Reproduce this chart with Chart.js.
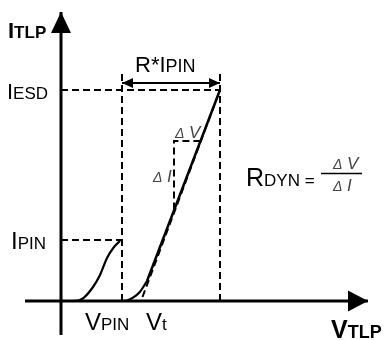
<!DOCTYPE html>
<html>
<head>
<meta charset="utf-8">
<script src="https://cdn.jsdelivr.net/npm/chart.js@4.4.0/dist/chart.umd.min.js"></script>
<style>
    html, body { margin: 0; padding: 0; background: #fff; }
    #wrap { width: 388px; height: 340px; position: relative; }
</style>
</head>
<body>
<div id="wrap"><canvas id="tlpChart"></canvas></div>
<script>
// 軸範圍（橫軸 V、縱軸 I，任意單位）
const vRange = [-6.1, 32.7];
const iRange = [-3.9, 30.1];

// 特徵點
const vPin = 6.1;
const vEsd = 15.9;
const iPin = 6.1;
const iEsd = 21.1;
const iGuideTop = 22.8;
const iArrow = 21.8;

// 座標軸
const axisV = [-3.6, 30.7];
const axisI = [-3.4, 28.9];

// pin 曲線
const pinV = [0.5, 1.2, 2.2, 3.2, 3.9, 4.6, 5.3, 5.9];
const pinI = [0, 0, 0.27, 1.4, 2.6, 4.3, 5.4, 6.0];

// 膝點曲線
const kneeV = [5.9, 6.1, 6.6, 7.2, 7.9, 8.6];
const kneeI = [0, 0, 0.05, 0.33, 0.93, 2.0];

// 線性區
const slopeV = [8.6, vEsd];
const slopeI = [2.0, iEsd];

// 外插虛線
const tanV = [8.15, vEsd];
const tanI = [0.4, iEsd];

// ΔV / ΔI 三角形
const triV = [13.94, 11.3, 11.3];
const triI = [16.0, 16.0, 9.1];

const zip = (xs, ys) => xs.map((x, k) => ({ x: x, y: ys[k] }));

const solid = (data, w) => ({
    data: data, borderColor: '#000', borderWidth: w, pointRadius: 0,
    fill: false, tension: 0
});
const dashed = (data) => ({
    data: data, borderColor: '#000', borderWidth: 2, borderDash: [7, 4],
    pointRadius: 0, fill: false, tension: 0
});

// 箭頭
const arrowPlugin = {
    id: 'arrowHeads',
    afterDatasetsDraw(chart) {
        const ctx = chart.ctx;
        chart.data.datasets.forEach((ds, i) => {
            if (!ds.arrows) return;
            const pts = chart.getDatasetMeta(i).data;
            ds.arrows.forEach(a => {
                const tip = a.end ? pts[pts.length - 1] : pts[0];
                const from = a.end ? pts[pts.length - 2] : pts[1];
                const ang = Math.atan2(tip.y - from.y, tip.x - from.x);
                ctx.save();
                ctx.translate(tip.x, tip.y);
                ctx.rotate(ang);
                ctx.beginPath();
                ctx.moveTo(0, 0);
                ctx.lineTo(-a.len, -a.half);
                ctx.lineTo(-a.len, a.half);
                ctx.closePath();
                ctx.fillStyle = '#000';
                ctx.fill();
                ctx.restore();
            });
        });
    }
};

// 文字標籤
const FONT = '"Liberation Sans", Arial, sans-serif';
const labelItems = [
    { x: 8, y: 38, parts: [['I', 'bold 22px'], ['TLP', 'bold 17px']] },
    { x: 7, y: 99, parts: [['I', '22px'], ['ESD', '17px']] },
    { x: 11, y: 249, parts: [['I', '24px'], ['PIN', '17px']] },
    { x: 135, y: 72, parts: [['R*I', '22px'], ['PIN', '18px']] },
    { x: 85, y: 330, parts: [['V', '24px'], ['PIN', '17px']] },
    { x: 146, y: 330, parts: [['V', '24px'], ['t', '17px']] },
    { x: 331, y: 338, parts: [['V', 'bold 25px'], ['TLP', 'bold 18px']] },
    { x: 246, y: 186, parts: [['R', '25px'], ['DYN', '17px'], [' =', '17px']] },
    { x: 175, y: 138, color: '#444', parts: [['Δ', 'italic 14px'], [' V', 'italic 17px']] },
    { x: 153, y: 182, color: '#444', parts: [['Δ', 'italic 14px'], [' I', 'italic 17px']] },
    { x: 333, y: 169, color: '#444', parts: [['Δ', 'italic 14px'], [' V', 'italic 17px']] },
    { x: 333, y: 191, color: '#444', parts: [['Δ', 'italic 14px'], [' I', 'italic 17px']] },
];

const textPlugin = {
    id: 'labels',
    afterDraw(chart) {
        const ctx = chart.ctx;
        ctx.save();
        ctx.textBaseline = 'alphabetic';
        labelItems.forEach(l => {
            let x = l.x;
            ctx.fillStyle = l.color || '#000';
            l.parts.forEach(p => {
                ctx.font = p[1] + ' ' + FONT;
                ctx.fillText(p[0], x, l.y);
                x += ctx.measureText(p[0]).width;
            });
        });
        // 分數線
        ctx.strokeStyle = '#000';
        ctx.lineWidth = 1.5;
        ctx.beginPath();
        ctx.moveTo(321, 173.5);
        ctx.lineTo(362, 173.5);
        ctx.stroke();
        ctx.restore();
    }
};

const datasets = [
    // 導引虛線
    dashed(zip([0, vEsd], [iEsd, iEsd])),
    dashed(zip([0, vPin], [iPin, iPin])),
    dashed(zip([vPin, vPin], [0, iGuideTop])),
    dashed(zip([vEsd, vEsd], [0, iGuideTop])),
    dashed(zip(tanV, tanI)),
    dashed(zip(triV, triI)),
    // 曲線
    Object.assign(solid(zip(pinV, pinI), 2.2), { cubicInterpolationMode: 'monotone' }),
    Object.assign(solid(zip(kneeV, kneeI), 2.2), { cubicInterpolationMode: 'monotone' }),
    solid(zip(slopeV, slopeI), 2.5),
    // R*IPIN 雙箭頭
    Object.assign(solid(zip([vPin, vEsd], [iArrow, iArrow]), 2),
        { arrows: [{ end: false, len: 11, half: 5 }, { end: true, len: 11, half: 5 }] }),
    // 座標軸
    Object.assign(solid(zip(axisV, [0, 0]), 3), { arrows: [{ end: true, len: 20, half: 10.5 }] }),
    Object.assign(solid(zip([0, 0], axisI), 3), { arrows: [{ end: true, len: 21, half: 10 }] }),
];

new Chart(document.getElementById('tlpChart'), {
    type: 'line',
    data: { datasets: datasets },
    options: {
        responsive: true,
        maintainAspectRatio: false,
        animation: false,
        layout: { padding: 0 },
        plugins: { legend: { display: false }, tooltip: { enabled: false } },
        scales: {
            x: { type: 'linear', min: vRange[0], max: vRange[1], display: false },
            y: { type: 'linear', min: iRange[0], max: iRange[1], display: false }
        }
    },
    plugins: [arrowPlugin, textPlugin]
});
</script>
</body>
</html>
